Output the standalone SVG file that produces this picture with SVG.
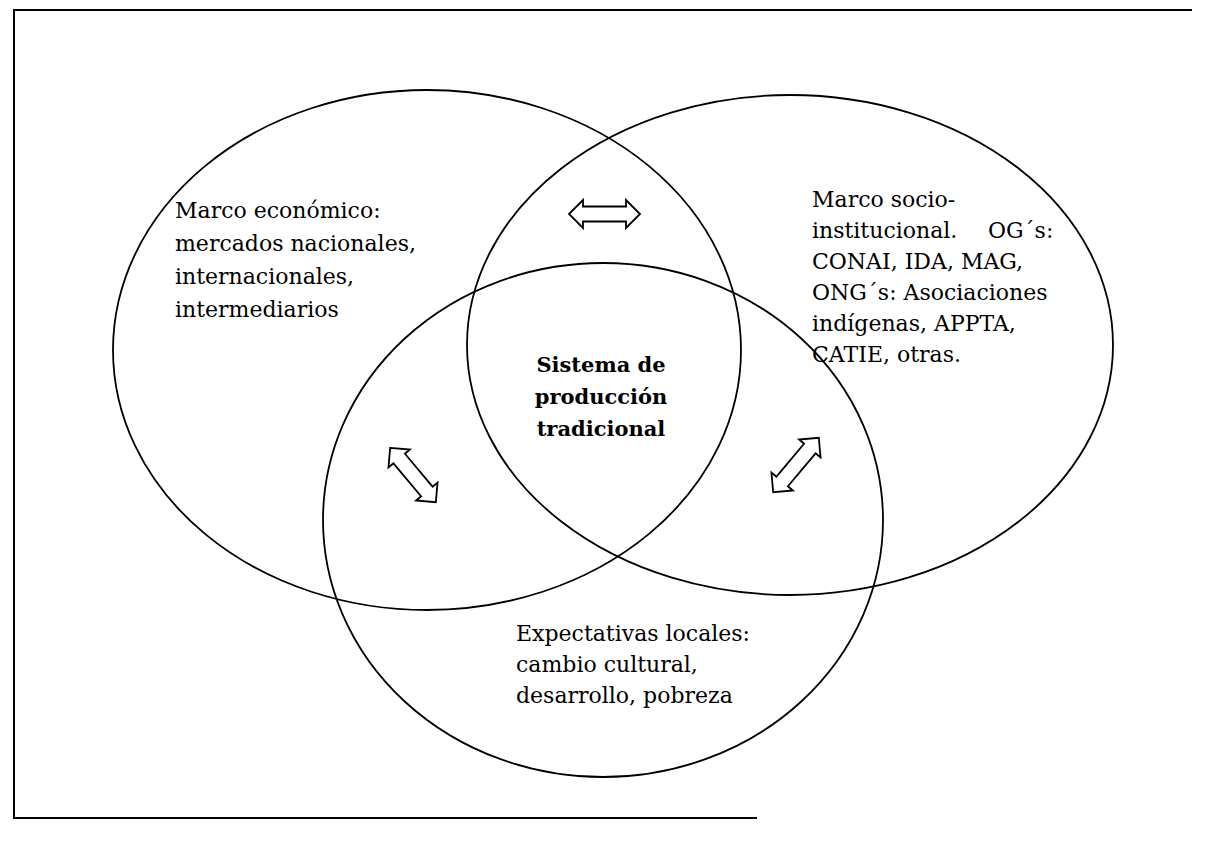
<svg xmlns="http://www.w3.org/2000/svg" width="1209" height="842" viewBox="0 0 1209 842">
<style>
.bg{fill:#ffffff}
.frame{fill:none;stroke:#000;stroke-width:2}
.ell{fill:none;stroke:#000;stroke-width:1.8}
.arrow{fill:#fff;stroke:#000;stroke-width:1.8;stroke-linejoin:miter}
.t{font-family:"DejaVu Serif","Liberation Serif",serif;font-size:22px;fill:#000}
.c{font-family:"DejaVu Serif","Liberation Serif",serif;font-size:21px;font-weight:bold;fill:#000;text-anchor:middle}
</style>
<defs>
<path id="dbl" d="M-35.5,0 L-21.5,-14 L-21.5,-7.5 L21.5,-7.5 L21.5,-14 L35.5,0 L21.5,14 L21.5,7.5 L-21.5,7.5 L-21.5,14 Z"/>
</defs>
<rect class="bg" x="0" y="0" width="1209" height="842"/>
<path class="frame" d="M1192,10 L14,10 L14,818 L757,818"/>
<g id="economico">
<ellipse class="ell" cx="427" cy="350" rx="314" ry="260"/>
<text class="t" x="175" y="218">Marco económico:</text>
<text class="t" x="175" y="251">mercados nacionales,</text>
<text class="t" x="175" y="284">internacionales,</text>
<text class="t" x="175" y="317">intermediarios</text>
</g>
<g id="institucional">
<ellipse class="ell" cx="790" cy="345" rx="323" ry="250"/>
<text class="t" x="812" y="207">Marco socio-</text>
<text class="t" x="812" y="238">institucional.<tspan x="988">OG´s:</tspan></text>
<text class="t" x="812" y="269">CONAI, IDA, MAG,</text>
<text class="t" x="812" y="300">ONG´s: Asociaciones</text>
<text class="t" x="812" y="331">indígenas, APPTA,</text>
<text class="t" x="812" y="362">CATIE, otras.</text>
</g>
<g id="expectativas">
<ellipse class="ell" cx="603" cy="520" rx="280" ry="257"/>
<text class="t" x="516" y="641">Expectativas locales:</text>
<text class="t" x="516" y="672">cambio cultural,</text>
<text class="t" x="516" y="703">desarrollo, pobreza</text>
</g>
<g id="sistema">
<text class="c" x="601" y="372">Sistema de</text>
<text class="c" x="601" y="404">producción</text>
<text class="c" x="601" y="436">tradicional</text>
</g>
<g id="connectors">
<use href="#dbl" class="arrow" transform="translate(604.5,214)"/>
<use href="#dbl" class="arrow" transform="translate(413,475) rotate(50)"/>
<use href="#dbl" class="arrow" transform="translate(796,465) rotate(-50)"/>
</g>
</svg>
